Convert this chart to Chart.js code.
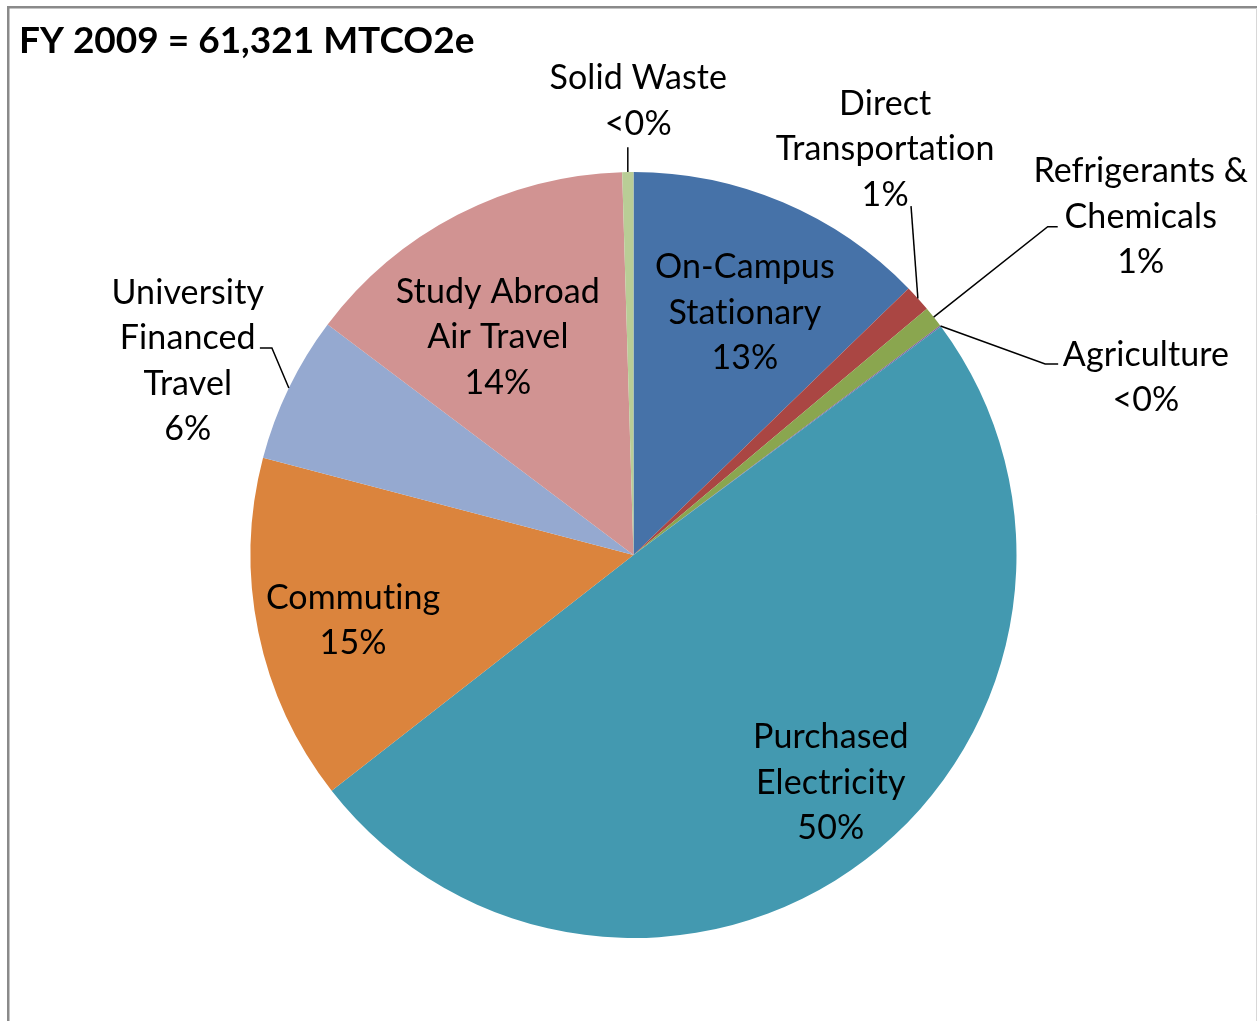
<!DOCTYPE html>
<html>
<head>
<meta charset="utf-8">
<script src="https://cdn.jsdelivr.net/npm/chart.js@4/dist/chart.umd.min.js"></script>
<style>
  html, body { margin: 0; padding: 0; background: #ffffff; }
  #wrap { position: relative; width: 1257px; height: 1021px; }
</style>
</head>
<body>
<div id="wrap"><canvas id="c" width="1257" height="1021"></canvas></div>
<script>
// ---- Data ----
const chartTitle = 'FY 2009 = 61,321 MTCO2e';
const categories = [
  'On-Campus Stationary',
  'Direct Transportation',
  'Refrigerants & Chemicals',
  'Agriculture',
  'Purchased Electricity',
  'Commuting',
  'University Financed Travel',
  'Study Abroad Air Travel',
  'Solid Waste'
];
// label line breaks as shown in the chart
const labelLines = [
  ['On-Campus', 'Stationary'],
  ['Direct', 'Transportation'],
  ['Refrigerants &', 'Chemicals'],
  ['Agriculture'],
  ['Purchased', 'Electricity'],
  ['Commuting'],
  ['University', 'Financed', 'Travel'],
  ['Study Abroad', 'Air Travel'],
  ['Solid Waste']
];
// MTCO2e (total 61,321)
const values = [7818, 698, 545, 30, 30428, 8977, 3798, 8738, 289];
const colors = ['#4672A8', '#AA4643', '#8AA64F', '#7D60A0', '#4399B0', '#DB843D', '#95A9D0', '#D19392', '#B9CD96'];

// ---- Label layout (text centre in polar coords: fraction of radius, degrees clockwise from top) ----
const labelLayout = [
  { r: 0.696, a: 24.7 },
  { r: 1.247, a: 31.8 },
  { r: 1.592, a: 56.3 },
  { r: 1.416, a: 70.9 },
  { r: 0.787, a: 139.1 },
  { r: 0.752, a: 256.8 },
  { r: 1.269, a: 293.5 },
  { r: 0.670, a: 328.1 },
  { r: 1.185, a: 0.6 }
];
// leader lines: elbow in polar coords + horizontal tail (px)
const leaderLayout = {
  1: { r: 1.164, a: 38.5, tail: 0 },
  2: { r: 1.380, a: 51.6, tail: 10 },
  3: { r: 1.185, a: 65.1, tail: 13 },
  6: { r: 1.088, a: 299.8, tail: -12 },
  8: { r: 1.065, a: -0.8, tail: 0 }
};

const FONT = 'Lato, "Open Sans", sans-serif';
const LABEL_SIZE = 34;
const LINE_H = 45.5;

function pctText(v, total) {
  const p = Math.round(v / total * 100);
  return p === 0 ? '<0%' : p + '%';
}

const framePlugin = {
  id: 'frame',
  beforeDraw(chart) {
    const ctx = chart.ctx;
    ctx.save();
    ctx.fillStyle = '#ffffff';
    ctx.fillRect(0, 0, chart.width, chart.height);
    ctx.strokeStyle = '#8a8a8a';
    ctx.lineWidth = 2.5;
    ctx.beginPath();
    ctx.moveTo(8.25, chart.height);
    ctx.lineTo(8.25, 7.25);
    ctx.lineTo(chart.width, 7.25);
    ctx.stroke();
    ctx.strokeStyle = '#d8d8d8';
    ctx.lineWidth = 1;
    ctx.beginPath();
    ctx.moveTo(1256.5, 8);
    ctx.lineTo(1256.5, chart.height);
    ctx.stroke();
    // title
    ctx.fillStyle = '#000000';
    ctx.font = 'bold 37px ' + FONT;
    ctx.textAlign = 'left';
    ctx.textBaseline = 'alphabetic';
    ctx.fillText(chartTitle, 19, 53);
    ctx.restore();
  }
};

const labelPlugin = {
  id: 'pieLabels',
  afterDatasetsDraw(chart) {
    const ctx = chart.ctx;
    const meta = chart.getDatasetMeta(0);
    const data = chart.data.datasets[0].data;
    const total = data.reduce((a, b) => a + b, 0);
    const polar = (cx, cy, r, deg) => {
      const t = deg * Math.PI / 180;
      return { x: cx + r * Math.sin(t), y: cy - r * Math.cos(t) };
    };
    ctx.save();
    // leader lines
    ctx.strokeStyle = '#000000';
    ctx.lineWidth = 1.5;
    meta.data.forEach((arc, i) => {
      const L = leaderLayout[i];
      if (!L) return;
      const p = arc.getProps(['x', 'y', 'startAngle', 'endAngle', 'outerRadius'], true);
      const mid = (p.startAngle + p.endAngle) / 2;
      const sx = p.x + p.outerRadius * Math.cos(mid);
      const sy = p.y + p.outerRadius * Math.sin(mid);
      const e = polar(p.x, p.y, p.outerRadius * L.r, L.a);
      ctx.beginPath();
      ctx.moveTo(sx, sy);
      ctx.lineTo(e.x, e.y);
      if (L.tail) ctx.lineTo(e.x + L.tail, e.y);
      ctx.stroke();
    });
    // text
    ctx.fillStyle = '#000000';
    ctx.font = LABEL_SIZE + 'px ' + FONT;
    if ('letterSpacing' in ctx) ctx.letterSpacing = '0.1px';
    ctx.textAlign = 'center';
    ctx.textBaseline = 'middle';
    meta.data.forEach((arc, i) => {
      const p = arc.getProps(['x', 'y', 'outerRadius'], true);
      const pos = polar(p.x, p.y, p.outerRadius * labelLayout[i].r, labelLayout[i].a);
      const lines = labelLines[i].concat([pctText(data[i], total)]);
      const top = pos.y - (lines.length - 1) * LINE_H / 2;
      lines.forEach((ln, k) => ctx.fillText(ln, pos.x, top + k * LINE_H));
    });
    ctx.restore();
  }
};

new Chart(document.getElementById('c'), {
  type: 'pie',
  data: {
    labels: categories,
    datasets: [{
      data: values,
      backgroundColor: colors,
      borderWidth: 0
    }]
  },
  options: {
    responsive: false,
    animation: false,
    devicePixelRatio: 1,
    layout: { padding: { top: 172, bottom: 83, left: 250.5, right: 240.5 } },
    plugins: {
      legend: { display: false },
      tooltip: { enabled: false },
      title: { display: false }
    }
  },
  plugins: [framePlugin, labelPlugin]
});
</script>
</body>
</html>
